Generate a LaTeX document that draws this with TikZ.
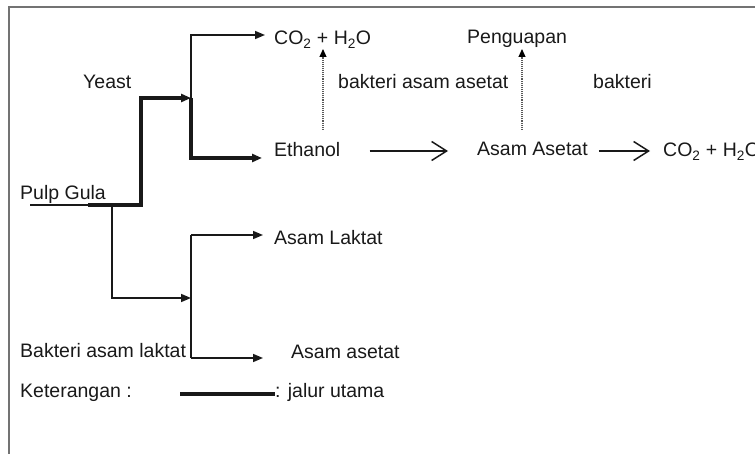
\documentclass[tikz,border=0pt]{standalone}
\usepackage{fontspec}
\setmainfont{Liberation Sans}
\usetikzlibrary{arrows.meta}
\definecolor{framec}{gray}{0.45}
\definecolor{ink}{gray}{0.1}
\tikzset{
  lbl/.style={anchor=base west, inner sep=0pt, text=ink, font=\fontsize{19.5}{23}\selectfont},
  ln/.style={line width=1.5pt, draw=ink},
  thk/.style={line width=3.2pt, draw=ink},
  tipst/.style={-{Triangle[length=10pt,width=8pt]}},
  openarr/.style={-{Straight Barb[length=15pt,width=19pt]}},
  dotarr/.style={line width=1.1pt, densely dotted, draw=gray!70!black, -{Triangle[length=8pt,width=7pt,color=black]}}
}
\begin{document}
\begin{tikzpicture}[x=1pt,y=-1pt]
\useasboundingbox (0,0) rectangle (755,454);
\draw[framec, line width=2pt] (8.5,454) -- (8.5,7.5) -- (755,7.5);

% texts
\node[lbl] (co2a) at (274,45) {CO\textsubscript{2} + H\textsubscript{2}O};
\node[lbl] (yeast) at (83,89) {Yeast};
\node[lbl] (eth) at (274,157) {Ethanol};
\node[lbl] (bas) at (338,89) {bakteri asam asetat};
\node[lbl] (peng) at (467,44) {Penguapan};
\node[lbl] (bak) at (593,89) {bakteri};
\node[lbl] (asas) at (477,156) {Asam Asetat};
\node[lbl] (co2b) at (663,157) {CO\textsubscript{2} + H\textsubscript{2}O};
\node[lbl] (pulp) at (20,200) {Pulp Gula};
\node[lbl] (lak) at (274,245) {Asam Laktat};
\node[lbl] (bal) at (20,357) {Bakteri asam laktat};
\node[lbl] (asam) at (291,358) {Asam asetat};
\node[lbl] (ket) at (20,397) {Keterangan :};
\node[lbl] (jal) at (275,397) {: jalur utama};

% junction points
\coordinate (p0) at (30,205);
\coordinate (p1) at (88,205);
\coordinate (p2) at (141,205);
\coordinate (p3) at (141,98);
\coordinate (y0) at (191,35);
\coordinate (y1) at (191,98);
\coordinate (y2) at (191,158);
\coordinate (b0) at (112,205);
\coordinate (b1) at (112,298);
\coordinate (l1) at (191,298);
\coordinate (l0) at (191,235);
\coordinate (l2) at (191,358);
\coordinate (row) at (0,151);
\coordinate (d1a) at (323,130);
\coordinate (d1b) at (323,49);
\coordinate (d2a) at (522,130);
\coordinate (d2b) at (522,49);
\coordinate (k0) at (180,394);

% main (yeast) path
\draw[ln] (p0) -- (p1);
\draw[thk, tipst] (p1) -- (p2) -- (p3) -- (y1);
\draw[thk, tipst, shorten >=12pt] (y1) -- (y2) -- (y2 -| eth.west);
\draw[ln, tipst, shorten >=9pt] (y1) -- (y0) -- (y0 -| co2a.west);

% bacteria branch
\draw[ln, tipst] (b0) -- (b1) -- (l1);
\draw[ln] (l0) -- (l2);
\draw[ln, tipst, shorten >=11pt] (l0) -- (l0 -| lak.west);
\draw[ln, tipst, shorten >=28pt] (l2) -- (l2 -| asam.west);

% open arrows
\draw[ln, openarr, shorten <=29pt, shorten >=29pt] (eth.east |- row) -- (asas.west |- row);
\draw[ln, openarr, shorten <=11pt, shorten >=13pt] (asas.east |- row) -- (co2b.west |- row);

% dotted arrows
\draw[dotarr] (d1a) -- (d1b);
\draw[dotarr] (d2a) -- (d2b);

% legend
\draw[thk] (k0) -- (jal.west |- k0);
\end{tikzpicture}
\end{document}
